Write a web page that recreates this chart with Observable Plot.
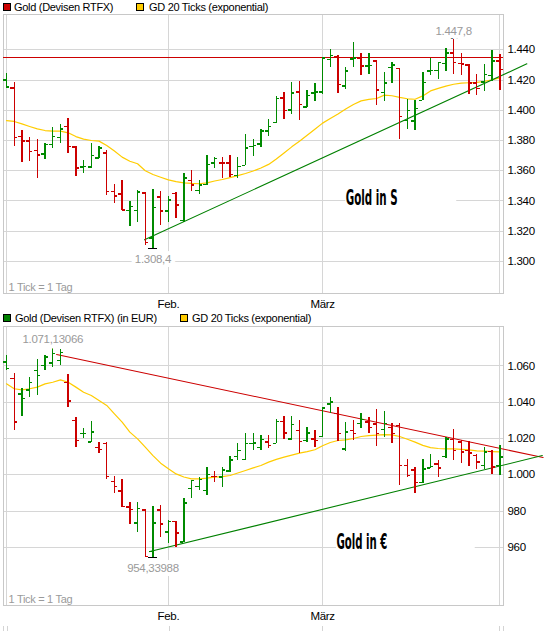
<!DOCTYPE html>
<html><head><meta charset="utf-8">
<script src="https://cdn.jsdelivr.net/npm/d3@7"></script>
<script src="https://cdn.jsdelivr.net/npm/@observablehq/plot@0.6"></script>
<style>
body{margin:0;background:#fff;width:545px;height:631px;overflow:hidden;position:relative;font-family:"Liberation Sans",Arial,sans-serif;}
.leg{position:absolute;font-size:11px;line-height:12px;letter-spacing:-0.3px;white-space:nowrap;color:#000}
.sq{position:absolute;width:6px;height:6px;border:1px solid #000}
.panel{position:absolute;left:0}
.panel svg text{letter-spacing:-0.3px}
.stub{position:absolute;width:1px;height:5px;top:626px;background:#d4d4d4}
</style></head><body>
<div id="leg1"></div>
<div id="p1" class="panel" style="top:14px"></div>
<div id="leg2"></div>
<div id="p2" class="panel" style="top:326px"></div>
<script>
// ---------- data ----------
const monthTicks = [21, 41];
const monthLabels = ["Feb.", "März"];

const usdOpen = [1420.1,1414.8,1382.6,1379.6,1373.4,1371.2,1377.4,1381.8,1389.3,1375.6,1362.4,1362.4,1368.5,1371.8,1346.4,1344.5,1333.7,1333.9,1345.3,1315.4,1342.7,1333.5,1345.0,1327.0,1353.5,1347.0,1351.0,1365.0,1365.0,1365.0,1357.0,1363.5,1376.0,1377.8,1386.2,1392.1,1408.2,1400.3,1412.0,1402.1,1411.3,1412.0,1433.4,1435.3,1416.0,1433.9,1434.5,1429.3,1432.7,1411.6,1428.2,1427.5,1393.4,1393.0,1406.6,1425.9,1426.4,1431.1,1438.0,1431.1,1430.0,1418.0,1418.6,1423.0,1432.7];
const usdHigh = [1424.5,1418.1,1386.6,1381.8,1380.6,1377.8,1388.4,1390.6,1394.6,1376.0,1366.8,1377.8,1376.0,1373.4,1350.9,1353.5,1339.5,1347.0,1345.3,1347.7,1346.4,1343.2,1345.3,1358.0,1360.0,1353.5,1370.0,1369.0,1368.5,1370.1,1368.5,1384.0,1380.4,1387.1,1393.7,1409.1,1412.0,1418.6,1419.2,1413.1,1417.9,1434.7,1440.0,1436.2,1428.0,1444.5,1437.3,1437.3,1432.7,1424.8,1431.6,1427.5,1407.0,1406.6,1424.8,1434.3,1431.6,1440.7,1447.8,1437.7,1430.5,1423.6,1430.5,1439.5,1436.6];
const usdLow = [1414.2,1376.0,1365.6,1366.3,1354.6,1367.2,1374.5,1378.2,1371.2,1356.4,1358.4,1361.7,1367.9,1343.8,1338.4,1333.5,1322.9,1325.5,1310.4,1308.4,1323.8,1325.5,1328.7,1325.5,1346.0,1344.5,1350.0,1361.3,1355.0,1355.8,1354.6,1363.5,1369.4,1375.6,1382.7,1391.5,1393.7,1397.2,1393.2,1401.6,1406.0,1410.4,1428.1,1411.3,1413.5,1428.2,1423.0,1423.6,1403.2,1405.5,1418.0,1380.4,1387.3,1386.6,1406.6,1423.0,1420.2,1425.9,1423.6,1423.2,1410.5,1410.0,1412.3,1419.1,1413.0];
const usdClose = [1415.3,1381.8,1379.6,1372.7,1370.5,1377.4,1382.6,1387.7,1376.0,1361.7,1362.8,1370.1,1375.1,1346.4,1343.4,1334.1,1336.3,1346.0,1312.5,1335.6,1333.5,1340.6,1337.3,1355.3,1350.5,1350.7,1364.3,1367.9,1365.0,1357.5,1362.8,1375.1,1376.7,1386.2,1389.3,1407.6,1399.8,1411.5,1403.8,1409.8,1412.0,1434.7,1436.2,1417.0,1426.0,1434.5,1429.3,1429.8,1413.4,1418.0,1430.0,1396.0,1399.8,1401.0,1418.4,1426.4,1431.6,1438.0,1431.6,1430.5,1418.0,1414.5,1423.6,1432.7,1427.0];
const usdEma = [1393.2,1392.6,1391.0,1389.3,1387.7,1386.6,1386.2,1386.2,1385.1,1382.6,1380.9,1380.0,1379.6,1376.7,1373.0,1369.0,1366.3,1364.6,1360.0,1357.5,1355.7,1354.0,1352.8,1352.0,1351.6,1351.4,1352.0,1353.2,1354.2,1355.5,1356.8,1358.2,1359.8,1361.8,1364.2,1367.8,1371.8,1375.8,1379.5,1383.5,1387.5,1391.5,1394.5,1397.5,1400.8,1403.8,1406.2,1407.2,1407.8,1410.0,1409.6,1408.5,1407.6,1407.3,1409.5,1412.8,1414.5,1416.0,1417.2,1418.0,1418.2,1418.4,1419.1,1420.2,1421.4];
const usdYTicks = [1300,1320,1340,1360,1380,1400,1420,1440];
const usdResistance = [1434.6];
const usdTrendIdx = [17.9, 67.5];
const usdTrendVal = [1314.3, 1430.7];

const eurOpen = [1062.1,1052.9,1044.6,1046.8,1057.5,1060.2,1061.5,1063.0,1051.0,1029.9,1022.6,1018.0,1015.0,1017.4,996.3,991.0,982.2,973.5,980.7,957.7,980.7,968.4,974.3,963.0,992.3,993.6,991.3,999.2,998.7,1002.0,1010.1,1008.4,1017.1,1015.2,1018.0,1017.1,1029.5,1019.8,1024.4,1018.9,1019.8,1021.1,1039.1,1033.9,1014.3,1024.4,1028.1,1029.0,1028.0,1024.8,1026.2,1027.2,1005.1,1002.7,995.9,1003.8,1006.0,1010.1,1019.3,1018.0,1013.4,1010.6,1005.1,1013.0,1005.1];
const eurHigh = [1065.7,1055.6,1047.4,1053.8,1063.3,1065.7,1071.13066,1068.9,1055.1,1031.7,1025.3,1029.4,1018.0,1018.0,999.1,997.2,984.6,984.6,980.7,982.7,983.1,974.8,974.3,986.8,996.9,998.7,1003.8,1002.0,1004.2,1010.1,1017.1,1022.6,1022.9,1021.7,1021.7,1030.3,1032.1,1032.1,1029.9,1025.9,1024.4,1037.3,1042.8,1037.3,1029.0,1030.0,1033.6,1031.4,1035.8,1035.1,1028.1,1028.5,1008.2,1003.8,1008.2,1011.2,1007.9,1020.4,1024.8,1018.9,1018.3,1011.2,1015.2,1013.4,1016.1];
const eurLow = [1057.5,1024.4,1032.1,1042.4,1043.7,1057.5,1058.9,1060.2,1037.3,1015.2,1019.8,1018.0,1011.5,997.2,989.5,982.2,972.6,968.0,954.6,954.33988,965.6,962.3,960.1,962.9,986.8,991.3,988.6,995.9,993.2,1001.5,1007.9,1007.9,1013.4,1013.4,1014.3,1017.1,1019.3,1018.9,1011.9,1018.0,1015.2,1020.7,1033.9,1018.5,1013.0,1018.9,1025.3,1022.6,1015.6,1020.4,1017.1,994.1,998.7,989.9,995.0,1003.3,998.7,1008.8,1007.9,1006.0,1004.6,1002.7,1002.7,1000.0,999.6];
const eurClose = [1058.4,1029.0,1041.9,1051.0,1054.7,1065.0,1066.7,1067.5,1040.6,1018.9,1022.6,1023.5,1014.0,999.1,993.7,982.5,980.9,981.3,955.0,973.5,973.0,974.4,968.0,984.4,996.9,997.5,1000.1,999.2,1002.7,1008.2,1013.4,1017.1,1017.6,1019.3,1016.1,1029.5,1023.1,1027.7,1018.5,1023.1,1018.9,1036.9,1040.0,1022.6,1023.5,1022.6,1030.5,1026.2,1022.6,1028.1,1022.6,1005.1,999.6,995.9,1003.3,1004.6,1003.8,1019.8,1013.4,1012.5,1012.0,1007.0,1012.5,1004.2,1009.7];
const eurEma = [1050.1,1047.4,1046.8,1047.4,1048.3,1050.1,1051.0,1052.3,1051.0,1048.3,1045.5,1043.7,1040.9,1038.2,1033.6,1029.0,1023.5,1019.8,1015.2,1010.6,1006.4,1003.3,1000.5,998.8,997.8,997.8,998.2,998.7,999.0,999.6,1001.0,1002.4,1003.8,1005.1,1007.0,1008.5,1009.7,1010.8,1011.9,1012.8,1013.8,1016.0,1017.8,1018.9,1019.2,1020.0,1021.1,1021.6,1021.9,1022.1,1022.0,1021.1,1019.6,1018.0,1016.2,1015.0,1014.5,1014.3,1014.3,1014.0,1013.7,1013.2,1013.0,1012.8,1012.6];
const eurYTicks = [960,980,1000,1020,1040,1060];
const eurDownIdx = [6.5, 69.6];
const eurDownVal = [1066.3, 1009.5];
const eurUpIdx = [18.6, 69.5];
const eurUpVal = [957.7, 1010.6];

const noteText = ["Gold in S", "Gold in €"];
const noteIdx = [44, 42.8];
const noteVal = [1342.3, 963.2];
const noteLen = [52, 51];
const boxIdx = [[44, 58.4], [42.8, 60.8]];
const boxVal = [[1331, 1355], [953, 972]];
const tickNote = "1 Tick = 1 Tag";

// ---------- styling ----------
const FONT = '"Liberation Sans",Arial,sans-serif';
const GREEN = "#008a00", RED = "#cc0000", YELLOW = "#ffcc00";
const GRID = "#d6d6d6", FRAME = "#c8c8c8";
const loc = d3.formatLocale({decimal: ",", thousands: ".", grouping: [3], currency: ["", ""]});
const fmtInt = loc.format(",d");

function rowsOf(o, h, l, c) {
  return o.map((v, i) => ({i, o: v, h: h[i], l: l[i], c: c[i], up: i === 0 || c[i] >= c[i - 1]}));
}

function panel(rows, ema, yDomain, yTicks, trends, hline, extremes, note) {
  const marks = [
    Plot.ruleY(yTicks, {stroke: GRID, shapeRendering: "crispEdges"}),
    Plot.ruleX(monthTicks, {stroke: GRID, shapeRendering: "crispEdges"}),
    Plot.ruleX([0, 64], {stroke: GRID, shapeRendering: "crispEdges"}),
    Plot.frame({stroke: FRAME, shapeRendering: "crispEdges"}),
    Plot.rect([note], {x1: d => d.bx[0], x2: d => d.bx[1], y1: d => d.by[0], y2: d => d.by[1], fill: "#fff"}),
    Plot.text([note], {x: "i", y: "v", text: "t", textAnchor: "start", fontSize: 22, fontWeight: "bold",
      fontFamily: '"DejaVu Sans Condensed","DejaVu Sans",sans-serif', fill: "#000"}),
    Plot.text([tickNote], {frameAnchor: "bottom-left", dx: 5, dy: -3, fill: "#9a9a9a", fontSize: 11})
  ];
  if (hline) marks.push(Plot.ruleY(hline, {stroke: RED, shapeRendering: "crispEdges"}));
  marks.push(Plot.line(ema.map((v, i) => ({i, v})), {x: "i", y: "v", stroke: YELLOW, strokeWidth: 1.2}));
  for (const t of trends) {
    marks.push(Plot.line(t.idx.map((x, k) => ({x, y: t.val[k]})), {x: "x", y: "y", stroke: t.color, strokeWidth: 1.1}));
  }
  for (const [flag, col] of [[true, GREEN], [false, RED]]) {
    const f = d => d.up === flag;
    marks.push(
      Plot.ruleX(rows, {filter: f, x: "i", y1: "l", y2: "h", stroke: col, strokeWidth: 1.4, shapeRendering: "crispEdges"}),
      Plot.ruleY(rows, {filter: f, y: "o", x1: d => d.i - 0.42, x2: "i", stroke: col, strokeWidth: 1.4, shapeRendering: "crispEdges"}),
      Plot.ruleY(rows, {filter: f, y: "c", x1: "i", x2: d => d.i + 0.42, stroke: col, strokeWidth: 1.4, shapeRendering: "crispEdges"})
    );
  }
  for (const e of extremes) {
    marks.push(
      Plot.ruleY([e], {y: "v", x1: d => d.i - 0.62, x2: d => d.i + 0.62, stroke: "#000", strokeWidth: 1.4, shapeRendering: "crispEdges"}),
      Plot.text([e], {x: "i", y: "v", text: "label", fill: "#9a9a9a", fontSize: 11.5,
        lineAnchor: e.top ? "bottom" : "top", dy: e.top ? -3 : 6, stroke: "#fff", strokeWidth: 8})
    );
  }
  marks.push(
    Plot.axisY(yTicks, {anchor: "right", tickSize: 0, tickPadding: 4, tickFormat: fmtInt, label: null, fontSize: 11.5}),
    Plot.axisX(monthTicks, {tickSize: 0, tickPadding: 6, tickFormat: d => monthLabels[monthTicks.indexOf(d)], label: null, fontSize: 11.5})
  );
  const svg = Plot.plot({
    width: 545, height: 296,
    marginLeft: 3, marginRight: 42, marginTop: 0, marginBottom: 17,
    x: {domain: [0, 64], insetLeft: 3, insetRight: 3.6},
    y: {domain: yDomain},
    style: {fontFamily: FONT, fontSize: "11.5px", background: "transparent", overflow: "visible", color: "#000"},
    marks
  });
  d3.select(svg).selectAll("text").filter(function() { return this.textContent === note.t; })
    .attr("textLength", note.len).attr("lengthAdjust", "spacingAndGlyphs").style("letter-spacing", "0px");
  return svg;
}

function legend(el, top, items) {
  const root = document.getElementById(el);
  for (const it of items) {
    const sq = document.createElement("div");
    sq.className = "sq"; sq.style.left = it.sx + "px"; sq.style.top = (top) + "px"; sq.style.background = it.color;
    root.appendChild(sq);
    const tx = document.createElement("div");
    tx.className = "leg"; tx.style.left = it.tx + "px"; tx.style.top = (top - 2) + "px"; tx.textContent = it.text;
    root.appendChild(tx);
  }
}

// ---------- build ----------
const usdRows = rowsOf(usdOpen, usdHigh, usdLow, usdClose);
const eurRows = rowsOf(eurOpen, eurHigh, eurLow, eurClose);
const uMin = d3.minIndex(usdLow), uMax = d3.maxIndex(usdHigh);
const eMin = d3.minIndex(eurLow), eMax = d3.maxIndex(eurHigh);

legend("leg1", 3, [
  {sx: 3, tx: 14, color: RED, text: "Gold (Devisen RTFX)"},
  {sx: 136, tx: 149, color: YELLOW, text: "GD 20 Ticks (exponential)"}
]);
legend("leg2", 314, [
  {sx: 3, tx: 15, color: "#008000", text: "Gold (Devisen RTFX) (in EUR)"},
  {sx: 180, tx: 192, color: YELLOW, text: "GD 20 Ticks (exponential)"}
]);

document.getElementById("p1").appendChild(panel(
  usdRows, usdEma, [1278.8, 1463.35], usdYTicks,
  [{idx: usdTrendIdx, val: usdTrendVal, color: "#008000"}],
  usdResistance,
  [{i: uMax, v: usdHigh[uMax], label: loc.format(",.1f")(usdHigh[uMax]), top: true},
   {i: uMin, v: usdLow[uMin], label: loc.format(",.1f")(usdLow[uMin]), top: false}],
  {t: noteText[0], i: noteIdx[0], v: noteVal[0], len: noteLen[0], bx: boxIdx[0], by: boxVal[0]}
));
document.getElementById("p2").appendChild(panel(
  eurRows, eurEma, [928.0, 1081.7], eurYTicks,
  [{idx: eurDownIdx, val: eurDownVal, color: RED}, {idx: eurUpIdx, val: eurUpVal, color: "#008000"}],
  null,
  [{i: eMax, v: eurHigh[eMax], label: loc.format(",.5f")(eurHigh[eMax]), top: true},
   {i: eMin, v: eurLow[eMin], label: loc.format(",.5f")(eurLow[eMin]), top: false}],
  {t: noteText[1], i: noteIdx[1], v: noteVal[1], len: noteLen[1], bx: boxIdx[1], by: boxVal[1]}
));
for (const x of [3, 7, 169, 322, 499, 503]) {
  const s = document.createElement("div"); s.className = "stub"; s.style.left = x + "px"; document.body.appendChild(s);
}
</script>
</body></html>
